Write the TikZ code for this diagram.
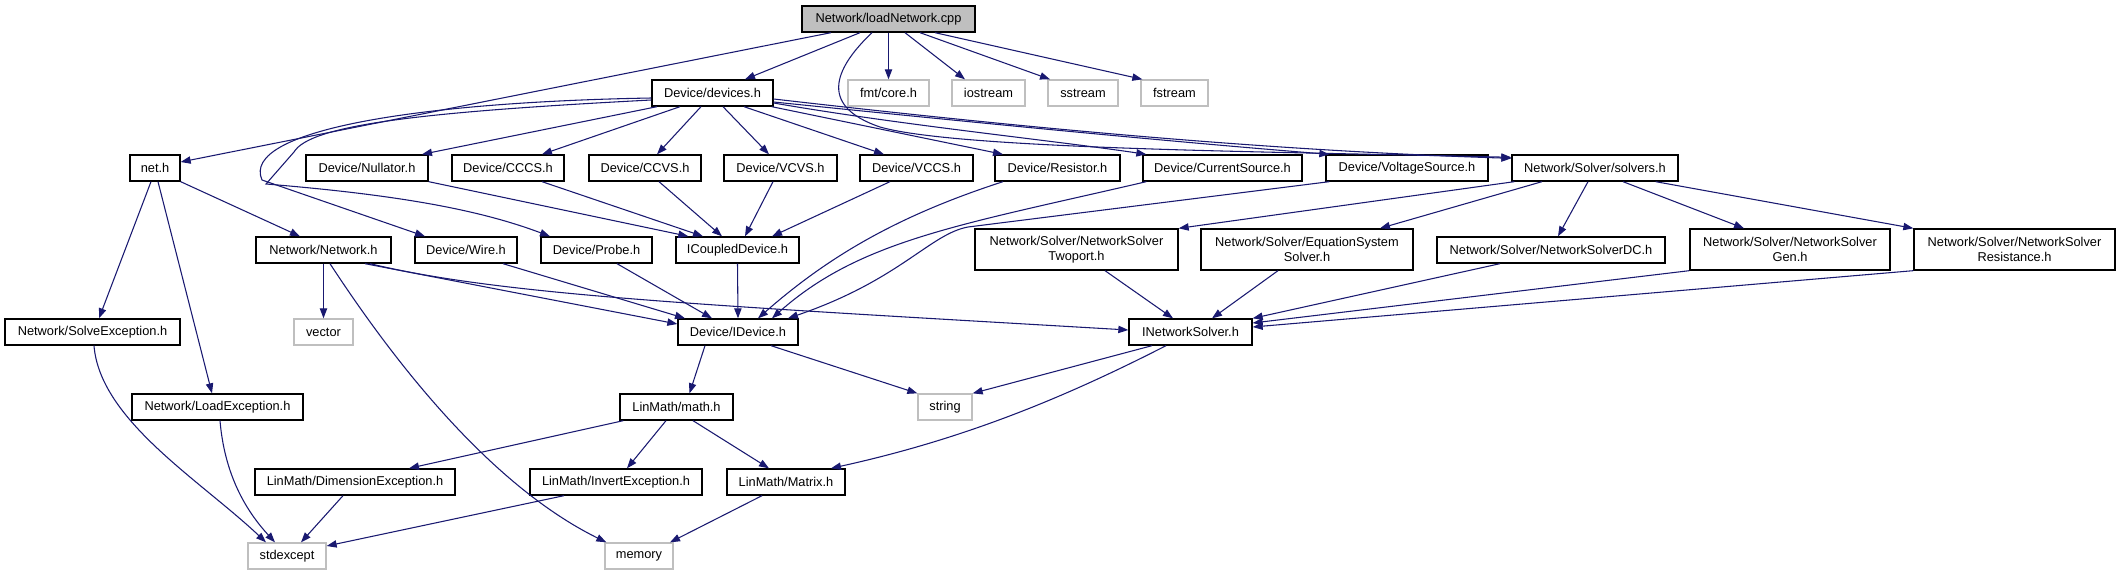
\documentclass[tikz,border=0pt]{standalone}
\usepackage{fontspec}
\setmainfont{Liberation Sans}
\usetikzlibrary{arrows.meta,calc}
\definecolor{edgec}{HTML}{191970}
\definecolor{grayb}{HTML}{BFBFBF}
\begin{document}
\begin{tikzpicture}[x=0.75pt,y=-0.75pt,
  box/.style={draw=black, line width=1pt, fill=white, inner sep=0pt, minimum height={26*0.75pt}, align=center, font=\fontsize{9.6}{11.5}\selectfont},
  sysbox/.style={box, draw=grayb},
  tall/.style={minimum height={41*0.75pt}},
  e/.style={draw=edgec, line width=0.8pt, -{Triangle[length=7.5pt,width=5.5pt]}}]
\useasboundingbox (0,0) rectangle (2127,575);
% row 1
\node[box, fill=grayb, minimum width={173*0.75pt}] (load) at (888.5,19) {Network/loadNetwork.cpp};
% row 2
\node[box, minimum width={121*0.75pt}] (devices) at (712.5,93) {Device/devices.h};
\node[sysbox, minimum width={81*0.75pt}] (fmt) at (888.5,93) {fmt/core.h};
\node[sysbox, minimum width={73*0.75pt}] (iostream) at (988.5,93) {iostream};
\node[sysbox, minimum width={70*0.75pt}] (sstream) at (1083,93) {sstream};
\node[sysbox, minimum width={67*0.75pt}] (fstream) at (1174.5,93) {fstream};
% row 3
\node[box, minimum width={50*0.75pt}] (net) at (155,168) {net.h};
\node[box, minimum width={122*0.75pt}] (nullator) at (367,168) {Device/Nullator.h};
\node[box, minimum width={112*0.75pt}] (cccs) at (508,168) {Device/CCCS.h};
\node[box, minimum width={112*0.75pt}] (ccvs) at (645,168) {Device/CCVS.h};
\node[box, minimum width={113*0.75pt}] (vcvs) at (780.5,168) {Device/VCVS.h};
\node[box, minimum width={113*0.75pt}] (vccs) at (916.5,168) {Device/VCCS.h};
\node[box, minimum width={125*0.75pt}] (resistor) at (1057.5,168) {Device/Resistor.h};
\node[box, minimum width={159*0.75pt}] (cursrc) at (1222.5,168) {Device/CurrentSource.h};
\node[box, minimum width={162*0.75pt}] (volsrc) at (1407,168) {Device/VoltageSource.h};
\node[box, minimum width={166*0.75pt}] (solvers) at (1595,168) {Network/Solver/solvers.h};
% row 4
\node[box, minimum width={135*0.75pt}] (network) at (323.5,250) {Network/Network.h};
\node[box, minimum width={102*0.75pt}] (wire) at (466,250) {Device/Wire.h};
\node[box, minimum width={111*0.75pt}] (probe) at (596.5,250) {Device/Probe.h};
\node[box, minimum width={123*0.75pt}] (icoupled) at (737.5,250) {ICoupledDevice.h};
\node[box, tall, minimum width={203*0.75pt}] (twoport) at (1076.5,249.5) {Network/Solver/NetworkSolver\\Twoport.h};
\node[box, tall, minimum width={212*0.75pt}] (eqsys) at (1307,249.5) {Network/Solver/EquationSystem\\Solver.h};
\node[box, minimum width={228*0.75pt}] (dc) at (1551,250) {Network/Solver/NetworkSolverDC.h};
\node[box, tall, minimum width={200*0.75pt}] (gen) at (1790,249.5) {Network/Solver/NetworkSolver\\Gen.h};
\node[box, tall, minimum width={201*0.75pt}] (resist) at (2014.5,249.5) {Network/Solver/NetworkSolver\\Resistance.h};
% row 5
\node[box, minimum width={175*0.75pt}] (solveexc) at (92.5,332) {Network/SolveException.h};
\node[sysbox, minimum width={59*0.75pt}] (vector) at (323.5,332) {vector};
\node[box, minimum width={120*0.75pt}] (idevice) at (738,332) {Device/IDevice.h};
\node[box, minimum width={123*0.75pt}] (inetsolver) at (1190.5,332) {INetworkSolver.h};
% row 6
\node[box, minimum width={171*0.75pt}] (loadexc) at (217.5,407) {Network/LoadException.h};
\node[box, minimum width={113*0.75pt}] (math) at (676.5,407) {LinMath/math.h};
\node[sysbox, minimum width={54*0.75pt}] (string) at (945,407) {string};
% row 7
\node[box, minimum width={200*0.75pt}] (dimexc) at (355,482) {LinMath/DimensionException.h};
\node[box, minimum width={172*0.75pt}] (invexc) at (616,482) {LinMath/InvertException.h};
\node[box, minimum width={118*0.75pt}] (matrix) at (786,482) {LinMath/Matrix.h};
% row 8
\node[sysbox, minimum width={78*0.75pt}] (stdexcept) at (287,556) {stdexcept};
\node[sysbox, minimum width={68*0.75pt}] (memory) at (639,556) {memory};

% edges from loadNetwork.cpp
\draw[e] ($(load.south)+(-57.5,0)$) -- ($(net.east)+(0,-6)$);
\draw[e] ($(load.south)+(-28.5,0)$) -- ($(devices.north)+(32.5,0)$);
\draw[e] (load.south) -- (fmt.north);
\draw[e] ($(load.south)+(16.5,0)$) -- ($(iostream.north)+(-23.5,0)$);
\draw[e] ($(load.south)+(31.5,0)$) -- ($(sstream.north)+(-33,0)$);
\draw[e] ($(load.south)+(46.5,0)$) -- ($(fstream.north west)+(2,0)$);
\draw[e] ($(load.south)+(-16.5,0)$) .. controls (838,65) and (815,105) .. (880,127) .. controls (960,150) and (1300,152) .. ($(solvers.north west)+(0,3)$);
% edges from devices.h
\draw[e] ($(devices.south)+(-55.5,0)$) -- ($(nullator.north)+(55,0)$);
\draw[e] ($(devices.south)+(-32.5,0)$) -- ($(cccs.north)+(34,0)$);
\draw[e] ($(devices.south)+(-11.5,0)$) -- ($(ccvs.north)+(12,0)$);
\draw[e] ($(devices.south)+(10.5,0)$) -- ($(vcvs.north)+(-11.5,0)$);
\draw[e] ($(devices.south)+(31.5,0)$) -- ($(vccs.north)+(-32.5,0)$);
\draw[e] ($(devices.south east)+(-2,0)$) -- ($(resistor.north)+(-54.5,0)$);
\draw[e] ($(devices.east)+(0,10)$) .. controls (900,125) and (1050,140) .. ($(cursrc.north west)+(4,0)$);
\draw[e] ($(devices.east)+(0,9)$) .. controls (950,120) and (1150,140) .. ($(volsrc.north west)+(4,0)$);
\draw[e] ($(devices.east)+(0,6)$) .. controls (1000,125) and (1250,150) .. ($(solvers.north west)+(0,4)$);
\draw[e] ($(devices.west)+(0,5)$) .. controls (420,102) and (240,130) .. (262,180) -- ($(wire.north)+(-41,0)$);
\draw[e] ($(devices.west)+(0,7)$) .. controls (420,112) and (310,125) .. (294,152) -- (266,184) .. controls (400,195) and (480,210) .. ($(probe.north)+(-46.5,0)$);
% net.h
\draw[e] ($(net.south)+(-4,0)$) -- ($(solveexc.north)+(6.5,0)$);
\draw[e] ($(net.south)+(3,0)$) -- ($(loadexc.north)+(-5.5,0)$);
\draw[e] (net.south east) -- ($(network.north)+(-23.5,0)$);
% Network.h
\draw[e] (network.south) -- (vector.north);
\draw[e] ($(network.south)+(6.5,0)$) .. controls (380,340) and (480,480) .. ($(memory.north west)+(2,0)$);
\draw[e] ($(network.south)+(41.5,0)$) -- ($(idevice.west)+(0,-8)$);
\draw[e] ($(network.south)+(46.5,0)$) .. controls (500,295) and (700,305) .. ($(inetsolver.west)+(0,-2)$);
% to ICoupledDevice
\draw[e] (nullator.south east) -- ($(icoupled.north west)+(13,0)$);
\draw[e] ($(cccs.south)+(34,0)$) -- ($(icoupled.north)+(-34.5,0)$);
\draw[e] ($(ccvs.south)+(14,0)$) -- ($(icoupled.north)+(-15.5,0)$);
\draw[e] ($(vcvs.south)+(-7.5,0)$) -- ($(icoupled.north)+(7.5,0)$);
\draw[e] ($(vccs.south)+(-26.5,0)$) -- ($(icoupled.north)+(34.5,0)$);
% to IDevice
\draw[e] ($(wire.south)+(37,0)$) -- ($(idevice.north)+(-53,0)$);
\draw[e] ($(probe.south)+(20.5,0)$) -- ($(idevice.north)+(-26,0)$);
\draw[e] (icoupled.south) -- (idevice.north);
\draw[e] ($(resistor.south)+(-54.5,0)$) .. controls (900,215) and (830,255) .. ($(idevice.north)+(20,0)$);
\draw[e] ($(cursrc.south west)+(4,0)$) .. controls (960,225) and (860,240) .. ($(idevice.north)+(34,0)$);
\draw[e] ($(volsrc.south west)+(4,0)$) -- (968,227) .. controls (930,234) and (900,280) .. ($(idevice.north)+(50,0)$);
% solvers.h
\draw[e] ($(solvers.south west)+(3,0)$) -- (twoport.north east);
\draw[e] ($(solvers.south)+(-53,0)$) -- ($(eqsys.north)+(73,0)$);
\draw[e] ($(solvers.south)+(-7,0)$) -- ($(dc.north)+(7,0)$);
\draw[e] ($(solvers.south)+(28,0)$) -- ($(gen.north)+(-46,0)$);
\draw[e] ($(solvers.south east)+(-23,0)$) -- (resist.north west);
% to INetworkSolver
\draw[e] ($(twoport.south)+(28.5,0)$) -- ($(inetsolver.north)+(-17.5,0)$);
\draw[e] ($(eqsys.south)+(-29,0)$) -- ($(inetsolver.north)+(21.5,0)$);
\draw[e] ($(dc.south)+(-51,0)$) -- (inetsolver.north east);
\draw[e] (gen.south west) -- ($(inetsolver.east)+(0,-9)$);
\draw[e] (resist.south west) -- ($(inetsolver.east)+(0,-5)$);
% lower part
\draw[e] ($(idevice.south)+(-33,0)$) -- ($(math.north)+(13,0)$);
\draw[e] ($(idevice.south)+(33,0)$) -- (string.north west);
\draw[e] ($(inetsolver.south)+(-38.5,0)$) -- (string.north east);
\draw[e] ($(inetsolver.south)+(-24.5,0)$) .. controls (1060,400) and (960,440) .. ($(matrix.north)+(45,0)$);
\draw[e] ($(math.south west)+(4,0)$) -- ($(dimexc.north)+(54,0)$);
\draw[e] ($(math.south)+(-10.5,0)$) -- ($(invexc.north)+(11,0)$);
\draw[e] ($(math.south)+(16.5,0)$) -- ($(matrix.north)+(-17,0)$);
\draw[e] ($(matrix.south)+(-24,0)$) -- ($(memory.north)+(31,0)$);
\draw[e] ($(dimexc.south)+(-12,0)$) -- ($(stdexcept.north)+(14,0)$);
\draw[e] ($(invexc.south)+(-52,0)$) -- ($(stdexcept.east)+(0,-10)$);
\draw[e] ($(solveexc.south)+(1.5,0)$) .. controls (100,420) and (200,480) .. ($(stdexcept.north)+(-21,0)$);
\draw[e] ($(loadexc.south)+(2.5,0)$) .. controls (225,480) and (250,515) .. ($(stdexcept.north)+(-12,0)$);
\end{tikzpicture}
\end{document}
